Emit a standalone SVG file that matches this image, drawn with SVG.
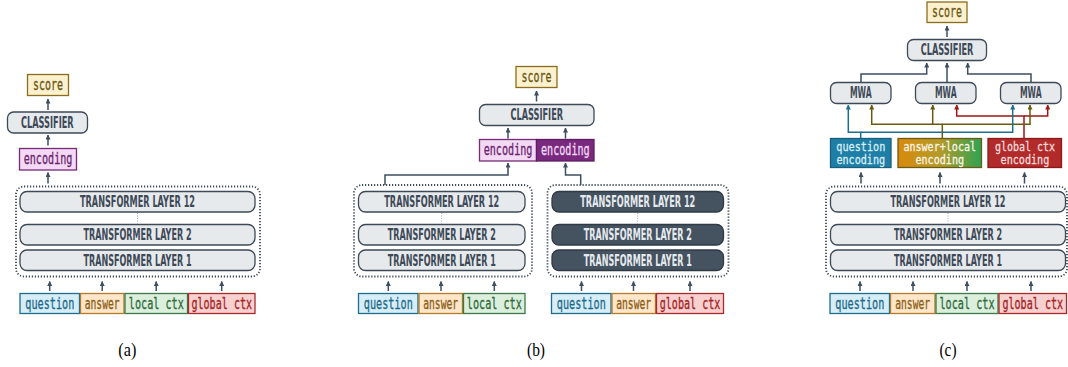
<svg xmlns="http://www.w3.org/2000/svg" width="1068" height="367" viewBox="0 0 1068 367">
<defs>
<style>
.box{fill:#e7eaed;stroke:#3d4956;stroke-width:1.3}
.dk{fill:#455361;stroke:#2f3a45;stroke-width:1.3}
.cont{fill:none;stroke:#3d4956;stroke-width:1.8;stroke-dasharray:1.2 1.8}
.vd{stroke:#9aa3ac;stroke-width:1;stroke-dasharray:1 1.5}
.lb{font-family:"Liberation Sans Narrow","DejaVu Sans Condensed","DejaVu Sans",sans-serif;font-weight:bold;font-size:15px;fill:#3d4956}
.lbd{fill:#e6eaee}
.mono{font-family:"DejaVu Sans Mono","Liberation Mono",monospace;font-size:15px;stroke-width:0.3px}
.sc{fill:#fbf1cf;stroke:#8a6d1c;stroke-width:1.3}
.sct{fill:#6a5410;stroke:#6a5410}
.enl{fill:#f3d9f4;stroke:#762a78;stroke-width:1.3}
.enlt{fill:#6b1f6e;stroke:#6b1f6e}
.end{fill:#7a2a7e;stroke:#5f1c62;stroke-width:1.3}
.endt{fill:#f3dcf5;stroke:#f3dcf5}
.q{fill:#d7eef9;stroke:#1d6d8b;stroke-width:1.3}
.qt{fill:#1d6a88;stroke:#1d6a88}
.a{fill:#fde6c9;stroke:#b27a2a;stroke-width:1.3}
.at{fill:#8a5c14;stroke:#8a5c14}
.l{fill:#dcefdd;stroke:#3b7a48;stroke-width:1.3}
.lt{fill:#2e6a3c;stroke:#2e6a3c}
.g{fill:#f7d0d0;stroke:#a82a2a;stroke-width:1.3}
.gt{fill:#a52323;stroke:#a52323}
.wt1{fill:#d8eff9;stroke:#d8eff9;font-size:12.5px}
.wt2{fill:#fbf6ea;stroke:#fbf6ea;font-size:12.5px}
.wt3{fill:#f9dcdc;stroke:#f9dcdc;font-size:12.5px}
.arr{fill:none;stroke:#3d4f60;stroke-width:1.5;marker-end:url(#ah)}
.cb{fill:none;stroke:#1d6f8f;stroke-width:1.5;marker-end:url(#ahb)}
.co{fill:none;stroke:#6b5a0e;stroke-width:1.5;marker-end:url(#aho)}
.cr{fill:none;stroke:#a01414;stroke-width:1.5;marker-end:url(#ahr)}
.cap{font-family:"Liberation Serif","Times New Roman",serif;font-size:19px;fill:#000}
</style>
<marker id="ah" viewBox="0 0 10 10" refX="9" refY="5" markerWidth="5" markerHeight="5" markerUnits="userSpaceOnUse" orient="auto"><path d="M0,0 L10,5 L0,10 z" fill="#3d4f60"/></marker>
<marker id="ahb" viewBox="0 0 10 10" refX="9" refY="5" markerWidth="5" markerHeight="5" markerUnits="userSpaceOnUse" orient="auto"><path d="M0,0 L10,5 L0,10 z" fill="#1d6f8f"/></marker>
<marker id="aho" viewBox="0 0 10 10" refX="9" refY="5" markerWidth="5" markerHeight="5" markerUnits="userSpaceOnUse" orient="auto"><path d="M0,0 L10,5 L0,10 z" fill="#6b5a0e"/></marker>
<marker id="ahr" viewBox="0 0 10 10" refX="9" refY="5" markerWidth="5" markerHeight="5" markerUnits="userSpaceOnUse" orient="auto"><path d="M0,0 L10,5 L0,10 z" fill="#a01414"/></marker>
<linearGradient id="grad" x1="0" y1="0" x2="1" y2="0">
<stop offset="0" stop-color="#d98a0c"/><stop offset="0.5" stop-color="#b49a28"/><stop offset="1" stop-color="#2ea353"/>
</linearGradient>
</defs>

<!-- Panel (a) -->
<g id="a-score"><rect class="sc" x="27.5" y="74.5" width="41" height="21"/><text class="mono sct" x="33" y="90" textLength="30" lengthAdjust="spacingAndGlyphs">score</text></g>
<g id="a-classifier"><rect class="box" x="7.5" y="112" width="80" height="21" rx="6"/><text class="lb" x="21" y="127.5" textLength="52.7" lengthAdjust="spacingAndGlyphs" font-size="14">CLASSIFIER</text></g>
<g id="a-encoding"><rect class="enl" x="19.5" y="148.5" width="57" height="21.5"/><text class="mono enlt" x="23.7" y="163.8" textLength="48.7" lengthAdjust="spacingAndGlyphs">encoding</text></g>
<g id="a-transformer">
<rect class="cont" x="16" y="186.5" width="244" height="90" rx="8"/>
<rect class="box" x="20" y="191.5" width="235" height="20.5" rx="7"/><text class="lb" x="80" y="207.3" textLength="115" lengthAdjust="spacingAndGlyphs">TRANSFORMER LAYER 12</text>
<line class="vd" x1="137.5" y1="213" x2="137.5" y2="223.5"/>
<rect class="box" x="20" y="224.5" width="235" height="20.5" rx="7"/><text class="lb" x="83.5" y="240.3" textLength="108" lengthAdjust="spacingAndGlyphs">TRANSFORMER LAYER 2</text>
<rect class="box" x="20" y="250" width="235" height="20.5" rx="7"/><text class="lb" x="83.5" y="265.8" textLength="108" lengthAdjust="spacingAndGlyphs">TRANSFORMER LAYER 1</text>
</g>
<g id="a-inputs">
<rect class="q" x="20" y="293.5" width="59.5" height="20"/><text class="mono qt" x="25.3" y="309" textLength="49" lengthAdjust="spacingAndGlyphs">question</text>
<rect class="a" x="80.5" y="293.5" width="43.5" height="20"/><text class="mono at" x="84.7" y="309" textLength="35" lengthAdjust="spacingAndGlyphs">answer</text>
<rect class="l" x="125" y="293.5" width="62.5" height="20"/><text class="mono lt" x="128.8" y="309" textLength="55" lengthAdjust="spacingAndGlyphs">local ctx</text>
<rect class="g" x="188.5" y="293.5" width="66.5" height="20"/><text class="mono gt" x="191.4" y="309" textLength="60.7" lengthAdjust="spacingAndGlyphs">global ctx</text>
</g>

<!-- Panel (b) -->
<g id="b-score"><rect class="sc" x="516" y="66.5" width="41" height="21"/><text class="mono sct" x="521.5" y="82" textLength="30" lengthAdjust="spacingAndGlyphs">score</text></g>
<g id="b-classifier"><rect class="box" x="479.5" y="104.5" width="114.5" height="21" rx="6"/><text class="lb" x="510.4" y="120.3" textLength="52.7" lengthAdjust="spacingAndGlyphs" font-size="14">CLASSIFIER</text></g>
<g id="b-encodings">
<rect class="enl" x="479.5" y="139.5" width="57" height="21.5"/><text class="mono enlt" x="483.7" y="154.8" textLength="48.7" lengthAdjust="spacingAndGlyphs">encoding</text>
<rect class="end" x="536.5" y="139.5" width="57.5" height="21.5"/><text class="mono endt" x="541" y="154.8" textLength="48.7" lengthAdjust="spacingAndGlyphs">encoding</text>
</g>
<g id="b-transformer-left">
<rect class="cont" x="354" y="185" width="178" height="91.5" rx="8"/>
<rect class="box" x="358.5" y="191.5" width="166.5" height="20.5" rx="7"/><text class="lb" x="384.3" y="207.3" textLength="115" lengthAdjust="spacingAndGlyphs">TRANSFORMER LAYER 12</text>
<line class="vd" x1="441.7" y1="213" x2="441.7" y2="223.5"/>
<rect class="box" x="358.5" y="224.5" width="166.5" height="20.5" rx="7"/><text class="lb" x="387.8" y="240.3" textLength="108" lengthAdjust="spacingAndGlyphs">TRANSFORMER LAYER 2</text>
<rect class="box" x="358.5" y="250" width="166.5" height="20.5" rx="7"/><text class="lb" x="387.8" y="265.8" textLength="108" lengthAdjust="spacingAndGlyphs">TRANSFORMER LAYER 1</text>
</g>
<g id="b-transformer-right">
<rect class="cont" x="547.5" y="185" width="181" height="91.5" rx="8"/>
<rect class="dk" x="552" y="191.5" width="171.5" height="20.5" rx="7"/><text class="lb lbd" x="580.3" y="207.3" textLength="115" lengthAdjust="spacingAndGlyphs">TRANSFORMER LAYER 12</text>
<line class="vd" x1="637.7" y1="213" x2="637.7" y2="223.5"/>
<rect class="dk" x="552" y="224.5" width="171.5" height="20.5" rx="7"/><text class="lb lbd" x="583.8" y="240.3" textLength="108" lengthAdjust="spacingAndGlyphs">TRANSFORMER LAYER 2</text>
<rect class="dk" x="552" y="250" width="171.5" height="20.5" rx="7"/><text class="lb lbd" x="583.8" y="265.8" textLength="108" lengthAdjust="spacingAndGlyphs">TRANSFORMER LAYER 1</text>
</g>
<g id="b-inputs-left">
<rect class="q" x="358.5" y="293.5" width="59.5" height="20"/><text class="mono qt" x="363.8" y="309" textLength="49" lengthAdjust="spacingAndGlyphs">question</text>
<rect class="a" x="419" y="293.5" width="43.5" height="20"/><text class="mono at" x="423.2" y="309" textLength="35" lengthAdjust="spacingAndGlyphs">answer</text>
<rect class="l" x="463.5" y="293.5" width="61.5" height="20"/><text class="mono lt" x="466.8" y="309" textLength="55" lengthAdjust="spacingAndGlyphs">local ctx</text>
</g>
<g id="b-inputs-right">
<rect class="q" x="551.5" y="293.5" width="59.5" height="20"/><text class="mono qt" x="556.8" y="309" textLength="49" lengthAdjust="spacingAndGlyphs">question</text>
<rect class="a" x="612" y="293.5" width="43.5" height="20"/><text class="mono at" x="616.2" y="309" textLength="35" lengthAdjust="spacingAndGlyphs">answer</text>
<rect class="g" x="656.5" y="293.5" width="67" height="20"/><text class="mono gt" x="659.7" y="309" textLength="60.7" lengthAdjust="spacingAndGlyphs">global ctx</text>
</g>

<!-- Panel (c) -->
<g id="c-score"><rect class="sc" x="927" y="2" width="40" height="20.5"/><text class="mono sct" x="932" y="17.3" textLength="30" lengthAdjust="spacingAndGlyphs">score</text></g>
<g id="c-classifier"><rect class="box" x="907.5" y="39.5" width="79" height="21" rx="6"/><text class="lb" x="920.7" y="55.3" textLength="52.7" lengthAdjust="spacingAndGlyphs" font-size="14">CLASSIFIER</text></g>
<g id="c-mwa1"><rect class="box" x="830.5" y="82.5" width="60.5" height="21" rx="6"/><text class="lb" x="849.9" y="98.2" textLength="21.7" lengthAdjust="spacingAndGlyphs" font-size="14">MWA</text></g>
<g id="c-mwa2"><rect class="box" x="915.5" y="82.5" width="60.5" height="21" rx="6"/><text class="lb" x="934.9" y="98.2" textLength="21.7" lengthAdjust="spacingAndGlyphs" font-size="14">MWA</text></g>
<g id="c-mwa3"><rect class="box" x="1000.5" y="82.5" width="60.5" height="21" rx="6"/><text class="lb" x="1019.9" y="98.2" textLength="21.7" lengthAdjust="spacingAndGlyphs" font-size="14">MWA</text></g>
<g id="c-question-encoding"><rect x="830.5" y="138.5" width="60.5" height="29" fill="#1f7ea5" stroke="#175f7c" stroke-width="1.3"/>
<text class="mono wt1" x="836.3" y="151.3" textLength="49" lengthAdjust="spacingAndGlyphs">question</text>
<text class="mono wt1" x="836.4" y="163.5" textLength="48.7" lengthAdjust="spacingAndGlyphs">encoding</text></g>
<g id="c-answerlocal-encoding"><rect x="898" y="138.5" width="83.5" height="29" fill="url(#grad)" stroke="#6b5a1a" stroke-width="1.3"/>
<text class="mono wt2" x="903.4" y="151.3" textLength="72.7" lengthAdjust="spacingAndGlyphs">answer+local</text>
<text class="mono wt2" x="915.4" y="163.5" textLength="48.7" lengthAdjust="spacingAndGlyphs">encoding</text></g>
<g id="c-global-encoding"><rect x="988" y="138.5" width="73.5" height="29" fill="#b12b2b" stroke="#8c1a1a" stroke-width="1.3"/>
<text class="mono wt3" x="995" y="151.3" textLength="60" lengthAdjust="spacingAndGlyphs">global ctx</text>
<text class="mono wt3" x="1000.6" y="163.5" textLength="48.7" lengthAdjust="spacingAndGlyphs">encoding</text></g>
<g id="c-transformer">
<rect class="cont" x="826" y="186.5" width="241" height="90" rx="8"/>
<rect class="box" x="830.5" y="191.5" width="235" height="20.5" rx="7"/><text class="lb" x="890.5" y="207.3" textLength="115" lengthAdjust="spacingAndGlyphs">TRANSFORMER LAYER 12</text>
<line class="vd" x1="948" y1="213" x2="948" y2="223.5"/>
<rect class="box" x="830.5" y="224.5" width="235" height="20.5" rx="7"/><text class="lb" x="894" y="240.3" textLength="108" lengthAdjust="spacingAndGlyphs">TRANSFORMER LAYER 2</text>
<rect class="box" x="830.5" y="250" width="235" height="20.5" rx="7"/><text class="lb" x="894" y="265.8" textLength="108" lengthAdjust="spacingAndGlyphs">TRANSFORMER LAYER 1</text>
</g>
<g id="c-inputs">
<rect class="q" x="830" y="293.5" width="59.5" height="20"/><text class="mono qt" x="835.3" y="309" textLength="49" lengthAdjust="spacingAndGlyphs">question</text>
<rect class="a" x="890.5" y="293.5" width="44.5" height="20"/><text class="mono at" x="895.2" y="309" textLength="35" lengthAdjust="spacingAndGlyphs">answer</text>
<rect class="l" x="936" y="293.5" width="62" height="20"/><text class="mono lt" x="939.5" y="309" textLength="55" lengthAdjust="spacingAndGlyphs">local ctx</text>
<rect class="g" x="999" y="293.5" width="67.5" height="20"/><text class="mono gt" x="1002.4" y="309" textLength="60.7" lengthAdjust="spacingAndGlyphs">global ctx</text>
</g>

<g id="connectors">
<!-- (a) -->
<path class="arr" d="M48,110 V99"/>
<path class="arr" d="M48,145.5 V135"/>
<path class="arr" d="M48,183.5 V172.5"/>
<path class="arr" d="M49.7,291 V281.5"/>
<path class="arr" d="M102.2,291 V281.5"/>
<path class="arr" d="M156.2,291 V281.5"/>
<path class="arr" d="M221.7,291 V281.5"/>
<!-- (b) -->
<path class="arr" d="M536.5,101.5 V91"/>
<path class="arr" d="M508,138.5 V128"/>
<path class="arr" d="M565.5,138.5 V128"/>
<path class="arr" d="M385,185 V175 H508 V163"/>
<path class="arr" d="M580.7,185 V175 H565.5 V163"/>
<path class="arr" d="M388.3,291 V281.5"/>
<path class="arr" d="M441,291 V281.5"/>
<path class="arr" d="M494.3,291 V281.5"/>
<path class="arr" d="M581.5,291 V281.5"/>
<path class="arr" d="M633.5,291 V281.5"/>
<path class="arr" d="M690,291 V281.5"/>
<!-- (c) -->
<path class="arr" d="M947,37 V26"/>
<path class="arr" d="M861,82.5 V74 H926.7 V63"/>
<path class="arr" d="M947,82.5 V63"/>
<path class="arr" d="M1031,82.5 V74 H967.7 V63"/>
<path class="cr" d="M1024,138.5 V116 H956.7 V105"/>
<path class="cr" d="M1024,116 H1047.7 V105"/>
<path class="co" d="M942.3,138.5 V124.3 H871.7 V105"/>
<path class="co" d="M942.3,124.3 H1030 V105"/>
<path class="co" d="M932.7,124.3 V105"/>
<path class="cb" d="M860.7,138.5 V132.3 H848.3 V105"/>
<path class="cb" d="M860.7,132.3 H1012.7 V105"/>
<path class="arr" d="M861,183.5 V172.5"/>
<path class="arr" d="M940,183.5 V172.5"/>
<path class="arr" d="M1024.5,183.5 V172.5"/>
<path class="arr" d="M860,291 V281.5"/>
<path class="arr" d="M913,291 V281.5"/>
<path class="arr" d="M967,291 V281.5"/>
<path class="arr" d="M1031,291 V281.5"/>
</g>

<g id="captions">
<text class="cap" x="118.3" y="356" textLength="18" lengthAdjust="spacingAndGlyphs">(a)</text>
<text class="cap" x="527" y="356" textLength="18" lengthAdjust="spacingAndGlyphs">(b)</text>
<text class="cap" x="939.5" y="356" textLength="17" lengthAdjust="spacingAndGlyphs">(c)</text>
</g>
</svg>
